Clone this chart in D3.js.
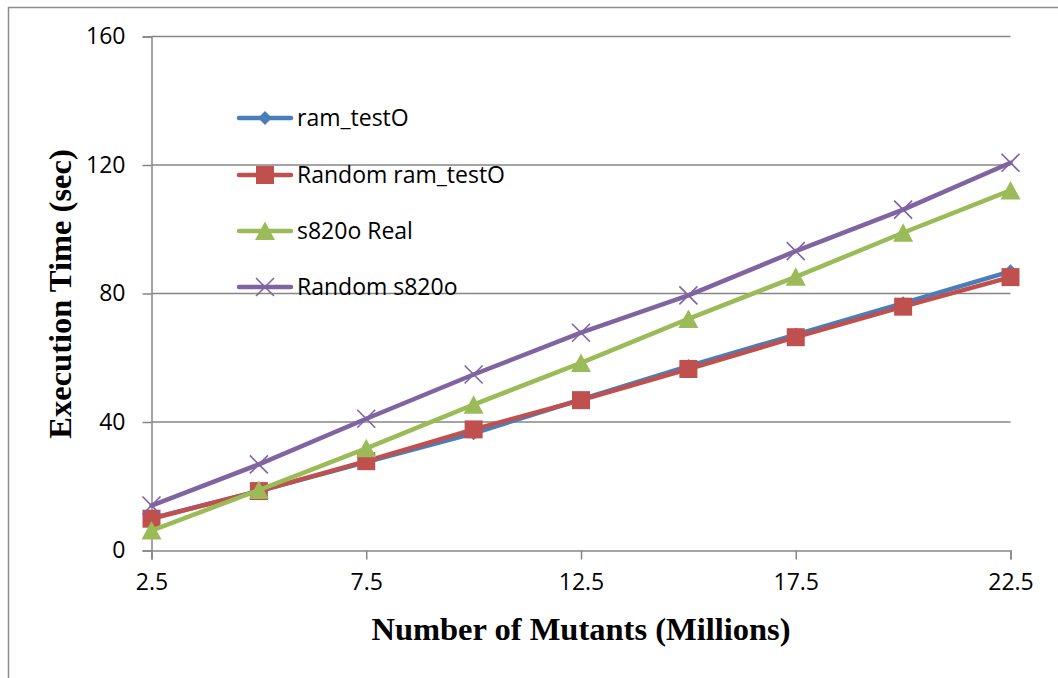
<!DOCTYPE html>
<html>
<head>
<meta charset="utf-8">
<script src="https://cdn.jsdelivr.net/npm/d3@7"></script>
<style>
  html, body { margin: 0; padding: 0; background: #fff; }
  svg { display: block; }
</style>
</head>
<body>
<svg id="chart" width="1058" height="678"></svg>
<script>
// Mutant counts (millions) on the x axis
const mutants = [2.5, 5, 7.5, 10, 12.5, 15, 17.5, 20, 22.5];
const xTickLabels = [2.5, 7.5, 12.5, 17.5, 22.5];
const yTicks = [0, 40, 80, 120, 160];

// Execution time (sec) per series
const ramTestO       = [10.0, 18.5, 27.5, 36.5, 47.0, 57.4, 67.2, 77.0, 86.9];
const randomRamTestO = [9.9, 18.5, 27.8, 37.7, 46.8, 56.5, 66.4, 75.9, 85.1];
const s820oReal      = [6.2, 18.8, 31.8, 45.4, 58.4, 72.1, 85.2, 98.9, 112.1];
const randomS820o    = [14.0, 26.8, 41.0, 54.8, 67.8, 79.4, 93.2, 106.1, 120.7];

const seriesNames = ["ram_testO", "Random ram_testO", "s820o Real", "Random s820o"];
const seriesColors = ["#4A7EBB", "#C0504D", "#9BBB59", "#8064A2"];
const seriesMarkers = ["diamond", "square", "triangle", "cross"];
const seriesValues = [ramTestO, randomRamTestO, s820oReal, randomS820o];

const series = seriesNames.map((name, i) => ({
  name, color: seriesColors[i], marker: seriesMarkers[i],
  points: mutants.map((m, j) => ({ x: m, y: seriesValues[i][j] }))
}));

const svg = d3.select("#chart");
const plot = { left: 151.5, right: 1010.5, top: 36.5, bottom: 550.5 };
const gridColor = "#868686";
const labelFont = "'Open Sans', sans-serif";
const titleFont = "'Liberation Serif', 'Times New Roman', serif";

// outer chart frame
svg.append("rect")
  .attr("x", 8.5).attr("y", 7.5)
  .attr("width", 1070).attr("height", 700)
  .attr("fill", "none").attr("stroke", "#8c8c8c").attr("stroke-width", 1.5);

const x = d3.scaleLinear().domain([2.5, 22.5]).range([plot.left, plot.right]);
const y = d3.scaleLinear().domain([0, 160]).range([plot.bottom, plot.top]);

// horizontal gridlines
svg.append("g")
  .selectAll("line")
  .data(yTicks.filter(t => t > 0))
  .join("line")
  .attr("x1", plot.left).attr("x2", plot.right)
  .attr("y1", d => y(d)).attr("y2", d => y(d))
  .attr("stroke", gridColor).attr("stroke-width", 1.5);

// y axis
const yAxis = svg.append("g")
  .attr("transform", `translate(${plot.left},0)`)
  .call(d3.axisLeft(y).tickValues(yTicks).tickSize(9).tickPadding(17).tickFormat(d3.format("d")));
yAxis.select(".domain").attr("stroke", gridColor).attr("stroke-width", 1.5);
yAxis.selectAll(".tick line").attr("stroke", gridColor).attr("stroke-width", 1.5);
yAxis.selectAll(".tick text")
  .attr("font-family", labelFont).attr("font-size", 23).attr("fill", "#000");

// x axis
const xAxis = svg.append("g")
  .attr("transform", `translate(0,${plot.bottom})`)
  .call(d3.axisBottom(x).tickValues(xTickLabels).tickSize(9).tickPadding(14).tickFormat(d3.format(".1f")));
xAxis.select(".domain").attr("stroke", gridColor).attr("stroke-width", 1.5);
xAxis.selectAll(".tick line").attr("stroke", gridColor).attr("stroke-width", 1.5);
xAxis.selectAll(".tick text")
  .attr("font-family", labelFont).attr("font-size", 23).attr("fill", "#000");

// marker shapes
function drawMarker(g, type, color) {
  if (type === "diamond") {
    g.append("path").attr("d", "M0,-7 L7,0 L0,7 L-7,0 Z").attr("fill", color);
  } else if (type === "square") {
    g.append("rect").attr("x", -9).attr("y", -9).attr("width", 18).attr("height", 18)
      .attr("fill", color);
  } else if (type === "triangle") {
    g.append("path").attr("d", "M0,-9.5 L10,9 L-10,9 Z").attr("fill", color);
  } else if (type === "cross") {
    g.append("path").attr("d", "M-9,-9 L9,9 M-9,9 L9,-9")
      .attr("stroke", color).attr("stroke-width", 1.6).attr("fill", "none");
  }
}

const line = d3.line().x(d => x(d.x)).y(d => y(d.y));

series.forEach(s => {
  const g = svg.append("g");
  g.append("path")
    .datum(s.points)
    .attr("d", line)
    .attr("fill", "none")
    .attr("stroke", s.color)
    .attr("stroke-width", 4.5)
    .attr("stroke-linejoin", "round")
    .attr("stroke-linecap", "round");
  g.selectAll("g.m")
    .data(s.points)
    .join("g")
    .attr("class", "m")
    .attr("transform", d => `translate(${x(d.x)},${y(d.y)})`)
    .each(function () { drawMarker(d3.select(this), s.marker, s.color); });
});

// legend
const legendY = [118, 175, 231, 287];
const legend = svg.append("g");
series.forEach((s, i) => {
  const g = legend.append("g").attr("transform", `translate(0,${legendY[i]})`);
  g.append("line")
    .attr("x1", 239).attr("x2", 291).attr("y1", 0).attr("y2", 0)
    .attr("stroke", s.color).attr("stroke-width", 4.5).attr("stroke-linecap", "round");
  const mg = g.append("g").attr("transform", "translate(265,0)");
  drawMarker(mg, s.marker, s.color);
  g.append("text")
    .attr("x", 297).attr("y", 0).attr("dy", "0.35em")
    .attr("font-family", labelFont).attr("font-size", 23).attr("fill", "#000")
    .text(s.name);
});

// axis titles
svg.append("text")
  .attr("x", 581).attr("y", 640)
  .attr("text-anchor", "middle")
  .attr("font-family", titleFont).attr("font-weight", "bold").attr("font-size", 32.5)
  .text("Number of Mutants (Millions)");

svg.append("text")
  .attr("transform", "translate(71,294) rotate(-90)")
  .attr("text-anchor", "middle")
  .attr("font-family", titleFont).attr("font-weight", "bold").attr("font-size", 32.5)
  .text("Execution Time (sec)");
</script>
</body>
</html>
